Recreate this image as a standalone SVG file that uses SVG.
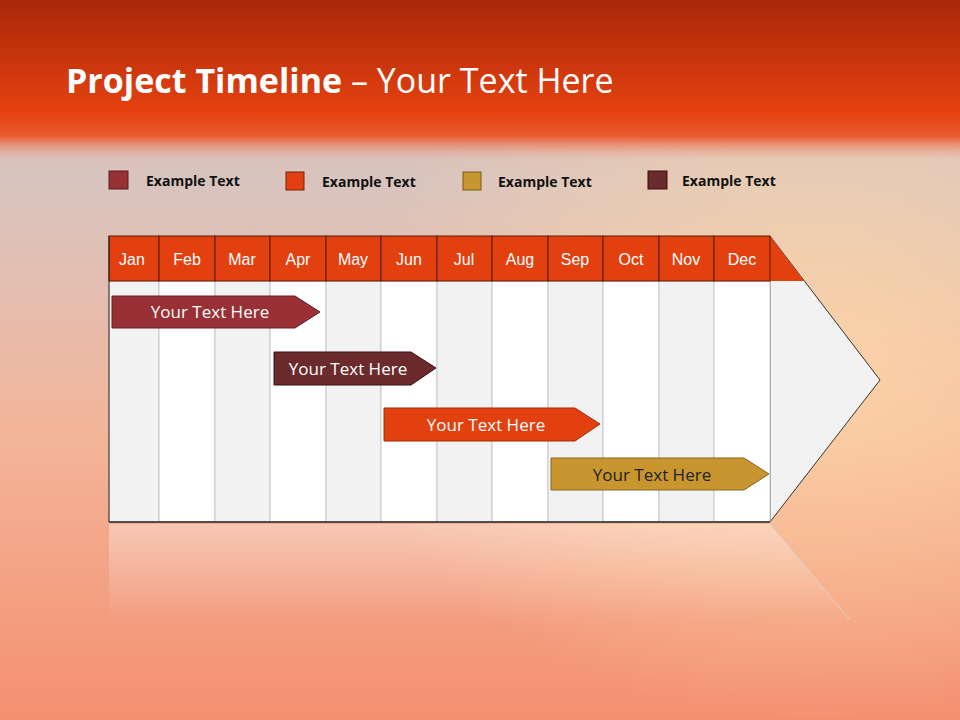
<svg xmlns="http://www.w3.org/2000/svg" width="960" height="720" viewBox="0 0 960 720">
<defs>
<linearGradient id="top" x1="0" y1="0" x2="0" y2="1"><stop offset="0" stop-color="#a8280a"/><stop offset="0.7" stop-color="#e5410f"/><stop offset="0.85" stop-color="#ea5a30"/><stop offset="1" stop-color="#e8a090" stop-opacity="0"/></linearGradient>
<linearGradient id="bg" x1="0" y1="0" x2="0" y2="1"><stop offset="0" stop-color="#e8b0a0"/><stop offset="0.25" stop-color="#d8c4bf"/><stop offset="0.6" stop-color="#f3b59a"/><stop offset="1" stop-color="#f49070"/></linearGradient>
<radialGradient id="glow" cx="0.85" cy="0.5" r="0.5"><stop offset="0" stop-color="#ffd9a8" stop-opacity="0.8"/><stop offset="1" stop-color="#ffd9a8" stop-opacity="0"/></radialGradient>
<linearGradient id="refl" x1="0" y1="0" x2="0" y2="1"><stop offset="0" stop-color="#fff" stop-opacity="0.35"/><stop offset="1" stop-color="#fff" stop-opacity="0"/></linearGradient>
</defs>
<style>
.m{font-family:"Liberation Sans",Arial,sans-serif;font-size:16px;fill:#fff;text-anchor:middle}
.lg{font-family:"Open Sans","Liberation Sans",sans-serif;font-size:14px;font-weight:bold;fill:#111}
.bt{font-family:"Open Sans","Liberation Sans",sans-serif;font-size:17px;fill:#fff;text-anchor:middle}
.c1{fill:#f2f2f2;stroke:#c8c8c8}
.c2{fill:#ffffff;stroke:#c8c8c8}
.h{fill:#e3400f;stroke:#5a1a0a}
</style>
<rect width="960" height="720" fill="url(#bg)"/>
<rect width="960" height="720" fill="url(#glow)"/>
<rect width="960" height="160" fill="url(#top)"/>
<text x="66" y="93" font-family="Open Sans,Liberation Sans,sans-serif" font-size="34" fill="#fff"><tspan font-weight="bold">Project Timeline</tspan> – Your Text Here</text>
<g id="legend">
<rect x="109" y="171" width="19" height="18" fill="#963035" stroke="#5a1a1a"/><text class="lg" x="146" y="186">Example Text</text>
<rect x="286" y="172" width="18" height="18" fill="#e3400f" stroke="#7a2008"/><text class="lg" x="322" y="187">Example Text</text>
<rect x="463" y="172" width="18" height="18" fill="#c9952f" stroke="#7a5a18"/><text class="lg" x="498" y="187">Example Text</text>
<rect x="648" y="171" width="19" height="18" fill="#6b2a2c" stroke="#3a1010"/><text class="lg" x="682" y="186">Example Text</text>
</g>
<polygon points="109,524 770,524 850,620 109,620" fill="url(#refl)"/>
<line x1="770" y1="524" x2="850" y2="620" stroke="#d8d0cc"/>
<g id="chart">
<polygon points="770,236 880,380 770,522" fill="#f2f2f2" stroke="#333"/>
<polygon points="770,236 804,281 770,281" fill="#e3400f"/>
<g>
<rect class="c1" x="109" y="281" width="50" height="241"/>
<rect class="c2" x="159" y="281" width="56" height="241"/>
<rect class="c1" x="215" y="281" width="55" height="241"/>
<rect class="c2" x="270" y="281" width="56" height="241"/>
<rect class="c1" x="326" y="281" width="55" height="241"/>
<rect class="c2" x="381" y="281" width="56" height="241"/>
<rect class="c1" x="437" y="281" width="55" height="241"/>
<rect class="c2" x="492" y="281" width="56" height="241"/>
<rect class="c1" x="548" y="281" width="55" height="241"/>
<rect class="c2" x="603" y="281" width="56" height="241"/>
<rect class="c1" x="659" y="281" width="55" height="241"/>
<rect class="c2" x="714" y="281" width="56" height="241"/>
</g>
<g>
<rect class="h" x="109" y="236" width="50" height="45"/><text class="m" x="132" y="265">Jan</text>
<rect class="h" x="159" y="236" width="56" height="45"/><text class="m" x="187" y="265">Feb</text>
<rect class="h" x="215" y="236" width="55" height="45"/><text class="m" x="242" y="265">Mar</text>
<rect class="h" x="270" y="236" width="56" height="45"/><text class="m" x="298" y="265">Apr</text>
<rect class="h" x="326" y="236" width="55" height="45"/><text class="m" x="353" y="265">May</text>
<rect class="h" x="381" y="236" width="56" height="45"/><text class="m" x="409" y="265">Jun</text>
<rect class="h" x="437" y="236" width="55" height="45"/><text class="m" x="464" y="265">Jul</text>
<rect class="h" x="492" y="236" width="56" height="45"/><text class="m" x="520" y="265">Aug</text>
<rect class="h" x="548" y="236" width="55" height="45"/><text class="m" x="575" y="265">Sep</text>
<rect class="h" x="603" y="236" width="56" height="45"/><text class="m" x="631" y="265">Oct</text>
<rect class="h" x="659" y="236" width="55" height="45"/><text class="m" x="686" y="265">Nov</text>
<rect class="h" x="714" y="236" width="56" height="45"/><text class="m" x="742" y="265">Dec</text>
</g>
<line x1="109" y1="236" x2="109" y2="522" stroke="#222"/>
<line x1="109" y1="522" x2="770" y2="522" stroke="#222" stroke-width="1.5"/>
</g>
<g id="bar1"><polygon points="112,296 295,296 320,312 295,328 112,328" fill="#983035" stroke="#6a1f22"/><text class="bt" x="210" y="318">Your  Text Here</text></g>
<g id="bar2"><polygon points="274,352 411,352 436,368 411,385 274,385" fill="#6b2a2c" stroke="#3a1010"/><text class="bt" x="348" y="375">Your  Text Here</text></g>
<g id="bar3"><polygon points="384,408 575,408 600,424 575,441 384,441" fill="#e3400f" stroke="#a02a08"/><text class="bt" x="486" y="431">Your  Text Here</text></g>
<g id="bar4"><polygon points="551,458 744,458 769,474 744,490 551,490" fill="#c9952f" stroke="#8a6420"/><text class="bt" x="652" y="481" style="fill:#222">Your  Text Here</text></g>
</svg>
